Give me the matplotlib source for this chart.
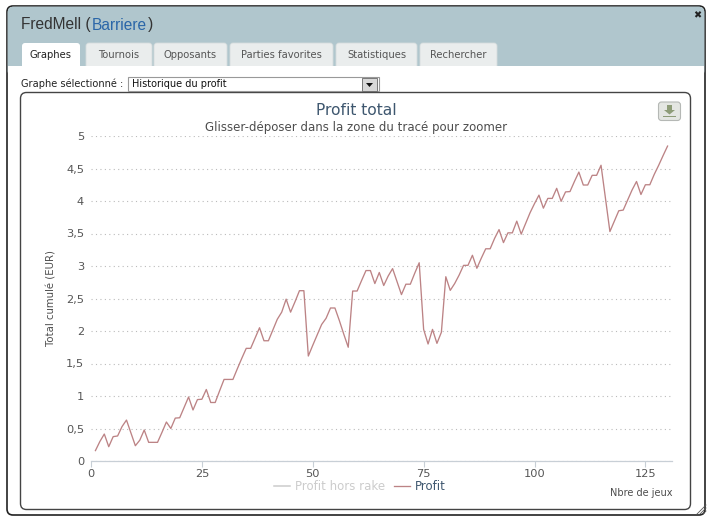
import matplotlib
matplotlib.use("Agg")
import matplotlib.pyplot as plt
from matplotlib.patches import FancyBboxPatch, Rectangle, Polygon

# ========== Data ==========
games = list(range(1, 131))
profit = [
    0.16, 0.30, 0.415, 0.22, 0.375, 0.385, 0.53, 0.63, 0.43, 0.235,
    0.32, 0.477, 0.287, 0.287, 0.287, 0.44, 0.60, 0.50, 0.66, 0.665,
    0.825, 0.985, 0.785, 0.945, 0.95, 1.10, 0.90, 0.90, 1.08, 1.255,
    1.255, 1.255, 1.42, 1.58, 1.733, 1.733, 1.89, 2.05, 1.85, 1.85,
    2.015, 2.18, 2.29, 2.49, 2.29, 2.45, 2.62, 2.62, 1.615, 1.78,
    1.94, 2.10, 2.195, 2.354, 2.354, 2.16, 1.95, 1.75, 2.615, 2.615,
    2.775, 2.93, 2.93, 2.73, 2.90, 2.70, 2.845, 2.96, 2.76, 2.56,
    2.72, 2.72, 2.89, 3.05, 2.025, 1.80, 2.025, 1.81, 1.98, 2.835,
    2.625, 2.73, 2.86, 3.01, 3.01, 3.165, 2.965, 3.12, 3.265, 3.265,
    3.425, 3.56, 3.36, 3.51, 3.51, 3.69, 3.49, 3.655, 3.82, 3.96,
    4.09, 3.89, 4.04, 4.04, 4.195, 3.995, 4.14, 4.145, 4.30, 4.445,
    4.246, 4.246, 4.395, 4.395, 4.55, 4.04, 3.53, 3.69, 3.85, 3.86,
    4.015, 4.17, 4.30, 4.10, 4.25, 4.25, 4.41, 4.55, 4.70, 4.845,
]
x_ticks = [0, 25, 50, 75, 100, 125]
y_ticks = [0, 0.5, 1, 1.5, 2, 2.5, 3, 3.5, 4, 4.5, 5]
y_labels = ["0", "0,5", "1", "1,5", "2", "2,5", "3", "3,5", "4", "4,5", "5"]
tab_names = ["Graphes", "Tournois", "Opposants", "Parties favorites", "Statistiques", "Rechercher"]
tab_edges = [(22, 80), (86, 152), (154, 227), (230, 333), (336, 417), (420, 497)]

W, H = 711, 518
TEXT = "DejaVu Sans"
fig = plt.figure(figsize=(W / 100, H / 100), dpi=100, facecolor="white")

# ========== Window chrome, drawn in pixel coordinates ==========
bg = fig.add_axes([0, 0, 1, 1], zorder=0)
bg.set_xlim(0, W)
bg.set_ylim(H, 0)
bg.axis("off")

bg.add_patch(FancyBboxPatch((7, 6), 698, 509, boxstyle="round,pad=0,rounding_size=6",
                            fc="white", ec="#222222", lw=1.2))
bg.add_patch(FancyBboxPatch((7.6, 6.6), 696.8, 70, boxstyle="round,pad=0,rounding_size=6",
                            fc="#B0C6CD", ec="none"))
bg.add_patch(Rectangle((7.6, 66), 696.8, 14, fc="white", ec="none"))

bg.text(21, 25, "FredMell (", fontsize=11.2, family="Liberation Sans", color="#333333", va="center")
bg.text(92, 25, "Barriere", fontsize=11.2, family="Liberation Sans", color="#2a66a8", va="center")
bg.text(148, 25, ")", fontsize=11.2, family="Liberation Sans", color="#333333", va="center")
bg.text(697, 15, "\u2716", fontsize=7, color="#222222", ha="center", va="center")

for i, (name, (x0, x1)) in enumerate(zip(tab_names, tab_edges)):
    fc = "white" if i == 0 else "#EAEDED"
    bg.add_patch(FancyBboxPatch((x0, 43), x1 - x0, 30, boxstyle="round,pad=0,rounding_size=3",
                                fc=fc, ec="none" if i == 0 else "#D6DCDD", lw=0.6, zorder=2))
    bg.text((x0 + x1) / 2, 54.5, name, fontsize=7.2, family=TEXT, zorder=3,
            color="#222222" if i == 0 else "#555555", ha="center", va="center")
bg.add_patch(Rectangle((7.6, 66), 696.8, 9, fc="white", ec="none", zorder=2.5))
bg.add_patch(Rectangle((22, 60), 58, 8, fc="white", ec="none", zorder=2.5))

bg.text(21, 84, "Graphe sélectionné :", fontsize=7.1, family=TEXT, color="#222222", va="center")
bg.add_patch(Rectangle((127.5, 76.5), 251, 14, fc="white", ec="#999999", lw=0.8, zorder=3))
bg.text(132, 84, "Historique du profit", fontsize=7.05, family=TEXT, color="#111111", va="center", zorder=4)
bg.add_patch(Rectangle((362, 77.5), 15, 13, fc="#D8D8D8", ec="#666666", lw=0.6, zorder=4))
bg.add_patch(Polygon([[366, 83], [373, 83], [369.5, 87]], fc="#111111", ec="none", zorder=5))

bg.add_patch(FancyBboxPatch((20.5, 92.5), 670, 417, boxstyle="round,pad=0,rounding_size=6",
                            fc="white", ec="#444444", lw=1))

# download button
bg.add_patch(FancyBboxPatch((658.5, 102), 22, 18.5, boxstyle="round,pad=0,rounding_size=3",
                            fc="#E4E6E2", ec="#B5B8B5", lw=0.8))
bg.add_patch(Polygon([[667, 105], [672, 105], [672, 110], [675, 110], [669.5, 114.5], [664, 110], [667, 110]],
                     fc="#8E9C78", ec="none"))
bg.add_patch(Rectangle((663, 115.5), 13, 1.8, fc="#8E9C78", ec="none"))

# resize grip
for k in (3, 6, 9):
    bg.plot([706 - k, 706], [514, 514 - k], color="#555555", lw=0.6)

bg.text(356, 110.5, "Profit total", fontsize=11.2, family=TEXT, color="#3E576F", ha="center", va="center")
bg.text(356, 127, "Glisser-déposer dans la zone du tracé pour zoomer", fontsize=8.5, family=TEXT,
        color="#4d4d4d", ha="center", va="center")
bg.text(672, 492.5, "Nbre de jeux", fontsize=7, family=TEXT, color="#4d4d4d", ha="right", va="center")
bg.text(52, 298, "Total cumulé (EUR)", fontsize=7.3, family=TEXT, color="#4d4d4d", rotation=90,
        ha="center", va="center")

# ========== Chart ==========
ax = fig.add_axes([91 / W, 1 - 461 / H, (672 - 91) / W, (461 - 136) / H], zorder=1)
ax.patch.set_alpha(0)
ax.plot([], [], color="#CCCCCC", lw=1.1, label="Profit hors rake")
ax.plot(games, profit, color="#BC8385", lw=0.95, label="Profit")
ax.set_xlim(0, 131)
ax.set_ylim(0, 5)
ax.set_xticks(x_ticks)
ax.set_yticks(y_ticks)
ax.set_yticklabels(y_labels)
ax.tick_params(axis="x", length=4, width=0.8, color="#C8CFD6", labelsize=8.2, labelcolor="#555555", pad=2)
ax.tick_params(axis="y", length=0, labelsize=8.2, labelcolor="#555555", pad=5)
ax.grid(axis="y", color="#BBBBBB", linestyle=(0, (1, 3)), lw=0.8)
ax.set_axisbelow(True)
for side in ("top", "left", "right"):
    ax.spines[side].set_visible(False)
ax.spines["bottom"].set_color("#C8CFD6")
ax.spines["bottom"].set_linewidth(0.9)

leg = ax.legend(loc="center", bbox_to_anchor=(269 / 581, -26 / 325), ncol=2, frameon=False,
                fontsize=8.5, handlelength=1.36, handletextpad=0.45, columnspacing=0.7, borderpad=0)
for txt, col in zip(leg.get_texts(), ["#CCCCCC", "#3E576F"]):
    txt.set_color(col)

fig.savefig("out.png", dpi=100)
